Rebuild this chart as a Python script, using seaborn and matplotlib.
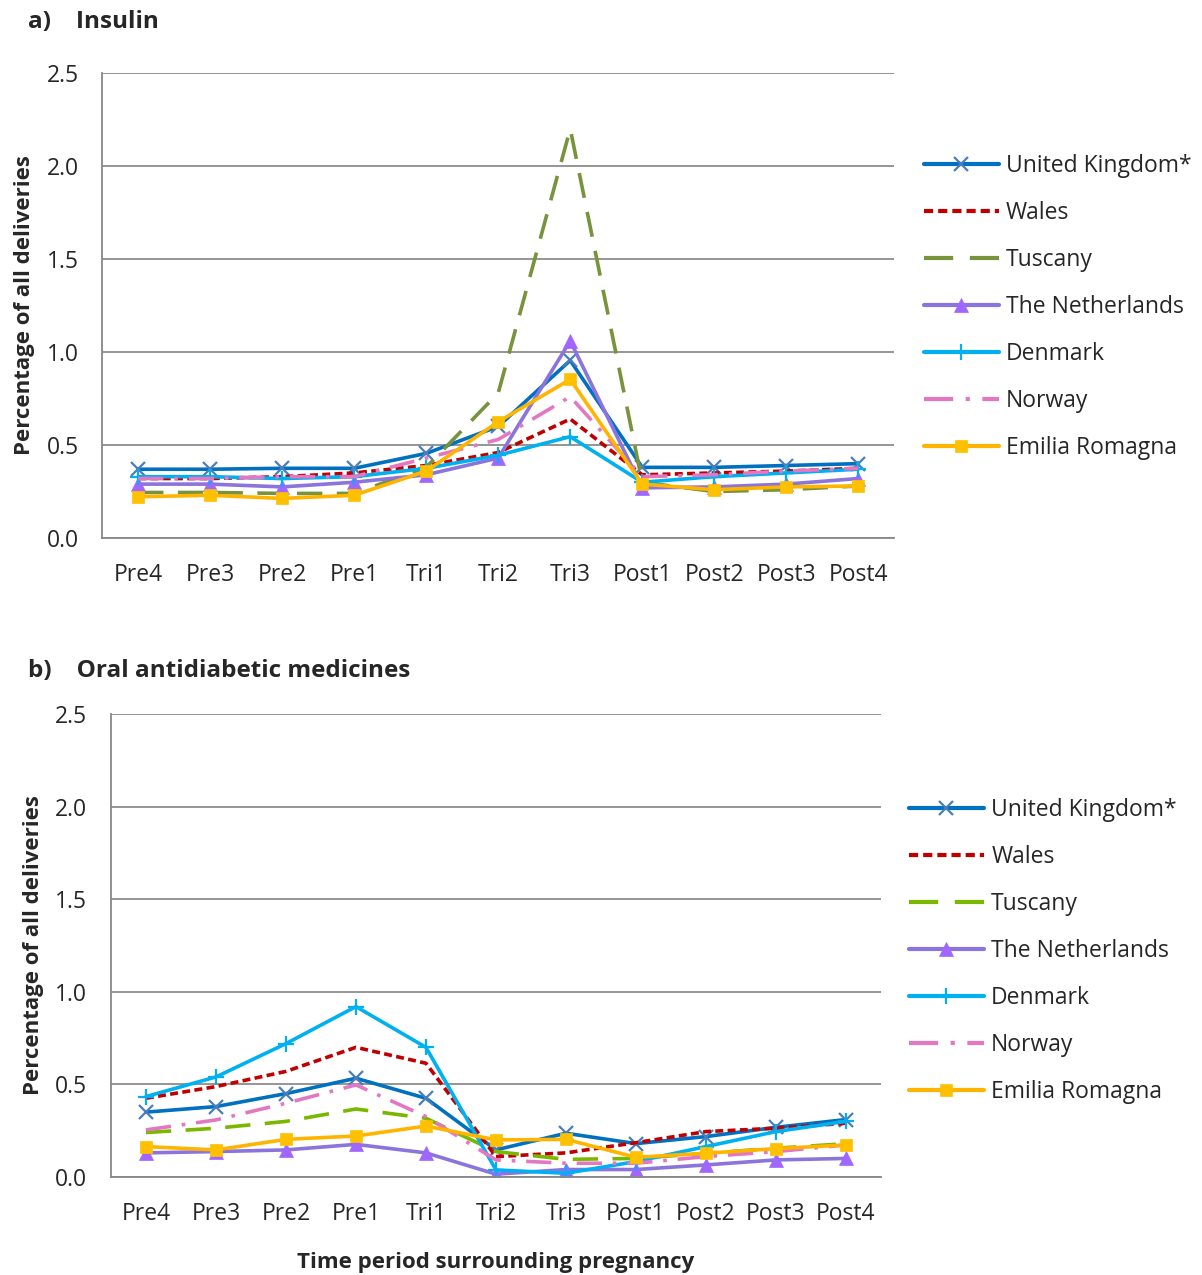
import matplotlib
matplotlib.use("Agg")
import matplotlib.pyplot as plt
import pandas as pd
import numpy as np
import seaborn as sns

periods = ["Pre4", "Pre3", "Pre2", "Pre1", "Tri1", "Tri2", "Tri3",
           "Post1", "Post2", "Post3", "Post4"]
countries = ["United Kingdom*", "Wales", "Tuscany", "The Netherlands",
             "Denmark", "Norway", "Emilia Romagna"]

# panel a - insulin (% of all deliveries)
ins_uk = [0.37, 0.37, 0.375, 0.375, 0.455, 0.60, 0.955, 0.38, 0.38, 0.39, 0.40]
ins_wales = [0.32, 0.32, 0.33, 0.35, 0.39, 0.46, 0.64, 0.34, 0.35, 0.36, 0.375]
ins_tuscany = [0.245, 0.245, 0.24, 0.24, 0.38, 0.78, 2.20, 0.30, 0.25, 0.26, 0.28]
ins_nl = [0.29, 0.29, 0.275, 0.30, 0.34, 0.43, 1.06, 0.27, 0.275, 0.29, 0.32]
ins_dk = [0.33, 0.33, 0.32, 0.33, 0.375, 0.445, 0.545, 0.30, 0.33, 0.35, 0.37]
ins_no = [0.32, 0.32, 0.33, 0.33, 0.43, 0.53, 0.76, 0.33, 0.34, 0.36, 0.375]
ins_er = [0.222, 0.23, 0.213, 0.23, 0.36, 0.625, 0.853, 0.29, 0.26, 0.275, 0.28]

# panel b - oral antidiabetic medicines
oad_uk = [0.35, 0.38, 0.45, 0.533, 0.425, 0.146, 0.236, 0.18, 0.218, 0.268, 0.31]
oad_wales = [0.425, 0.488, 0.57, 0.70, 0.614, 0.11, 0.13, 0.185, 0.245, 0.263, 0.29]
oad_tuscany = [0.24, 0.263, 0.30, 0.367, 0.317, 0.137, 0.095, 0.10, 0.128, 0.155, 0.18]
oad_nl = [0.13, 0.137, 0.146, 0.176, 0.13, 0.015, 0.04, 0.04, 0.065, 0.092, 0.10]
oad_dk = [0.434, 0.54, 0.72, 0.92, 0.70, 0.038, 0.02, 0.083, 0.164, 0.245, 0.30]
oad_no = [0.254, 0.308, 0.398, 0.497, 0.326, 0.092, 0.074, 0.074, 0.11, 0.137, 0.173]
oad_er = [0.164, 0.146, 0.203, 0.221, 0.275, 0.20, 0.203, 0.106, 0.128, 0.153, 0.173]

insulin = [ins_uk, ins_wales, ins_tuscany, ins_nl, ins_dk, ins_no, ins_er]
oral = [oad_uk, oad_wales, oad_tuscany, oad_nl, oad_dk, oad_no, oad_er]

sns.set_style("white")
plt.rcParams['font.family'] = ['Open Sans', 'DejaVu Sans']

# line styles per country: colour, dashes, marker, marker colour
styles = {
    "United Kingdom*": dict(color="#0070C0", ls="-", marker="x", mc="#4A7EBB", ms=10),
    "Wales": dict(color="#C00000", ls=(0, (2.2, 1.2)), marker=None, mc=None, ms=0),
    "Tuscany": dict(color="#77933C", ls=(0, (7, 4)), marker=None, mc=None, ms=0),
    "The Netherlands": dict(color="#8B74DB", ls="-", marker="^", mc="#A066FF", ms=10),
    "Denmark": dict(color="#00B0F0", ls="-", marker="+", mc="#00B0F0", ms=11),
    "Norway": dict(color="#E377C2", ls=(0, (7, 3, 1, 3)), marker=None, mc=None, ms=0),
    "Emilia Romagna": dict(color="#FFB400", ls="-", marker="s", mc="#FFC000", ms=9),
}

fig = plt.figure(figsize=(12.02, 12.75), dpi=100)
ax_a = fig.add_axes([0.085, 0.578, 0.659, 0.3647])
ax_b = fig.add_axes([0.0923, 0.0769, 0.6406, 0.3631])


def draw(ax, data, tuscany_col, legend_x, legend_y):
    for name, vals in zip(countries, data):
        st = styles[name]
        col = tuscany_col if name == "Tuscany" else st["color"]
        df = pd.DataFrame({"period": periods, "value": vals})
        sns.lineplot(data=df, x="period", y="value", ax=ax, color=col,
                     linewidth=2.6, label=name, sort=False,
                     marker=st["marker"] if st["marker"] else None,
                     markersize=st["ms"],
                     markerfacecolor=st["mc"] if st["mc"] else col,
                     markeredgecolor=st["mc"] if st["mc"] else col,
                     markeredgewidth=1.6 if st["marker"] in ("x", "+") else 0.5)
        line = ax.get_lines()[-1]
        line.set_linestyle(st["ls"])
    ax.set_xlim(-0.5, 10.5)
    ax.set_ylim(0, 2.5)
    ax.set_yticks(np.arange(0, 2.51, 0.5))
    ax.set_yticklabels([f"{v:.1f}" for v in np.arange(0, 2.51, 0.5)], fontsize=16.5)
    ax.set_xticks(range(len(periods)))
    ax.set_xticklabels(periods, fontsize=16.5)
    ax.set_xticks(np.arange(-0.5, 10.6, 1), minor=True)
    ax.tick_params(axis="x", which="major", length=0, pad=18)
    ax.tick_params(axis="x", which="minor", length=7, color="#888888", width=1.2)
    ax.tick_params(axis="y", length=8, color="#888888", width=1.2, pad=9)
    ax.grid(axis="y", color="#8C8C8C", linewidth=1.3)
    ax.set_axisbelow(True)
    for s in ["top", "right"]:
        ax.spines[s].set_visible(False)
    for s in ["left", "bottom"]:
        ax.spines[s].set_color("#888888")
        ax.spines[s].set_linewidth(1.3)
    ax.set_ylabel("Percentage of all deliveries", fontsize=16, fontweight="bold",
                  labelpad=8)
    ax.set_xlabel("")
    leg = ax.legend(loc="upper left", bbox_to_anchor=(legend_x, legend_y), frameon=False,
                    fontsize=16.5, handlelength=3.3, labelspacing=1.0,
                    handletextpad=0.3, borderaxespad=0, borderpad=0)
    for h in leg.get_lines():
        h.set_linewidth(3)


draw(ax_a, insulin, "#77933C", 1.037, 0.825)
draw(ax_b, oral, "#7AB800", 1.036, 0.818)

ax_b.set_xlabel("Time period surrounding pregnancy", fontsize=16,
                fontweight="bold", labelpad=19)

fig.text(0.023, 0.983, "a)    Insulin", fontsize=17.5, fontweight="bold", va="center")
fig.text(0.023, 0.474, "b)    Oral antidiabetic medicines", fontsize=17.5,
         fontweight="bold", va="center")

fig.savefig("out.png", dpi=100)
